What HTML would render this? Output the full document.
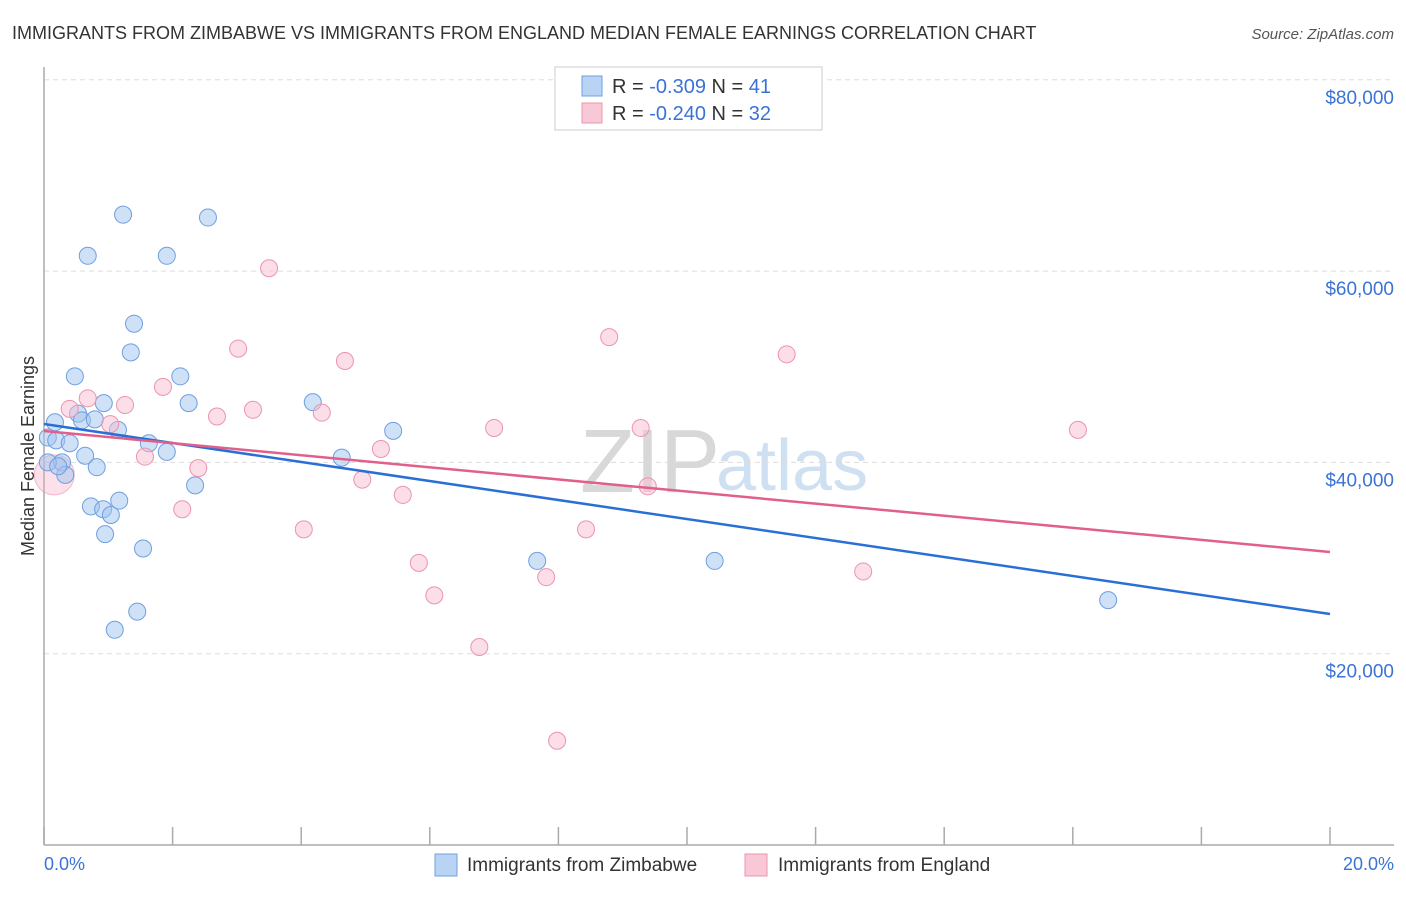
<!DOCTYPE html>
<html><head><meta charset="utf-8"><style>
body{margin:0;background:#fff;font-family:"Liberation Sans",sans-serif;}
svg text{font-family:"Liberation Sans",sans-serif;}
</style></head><body>
<svg width="1406" height="892" viewBox="0 0 1406 892" xmlns="http://www.w3.org/2000/svg">
<text x="12" y="39" font-size="18" fill="#333">IMMIGRANTS FROM ZIMBABWE VS IMMIGRANTS FROM ENGLAND MEDIAN FEMALE EARNINGS CORRELATION CHART</text>
<text x="1394" y="39" font-size="15" fill="#555" font-style="italic" text-anchor="end">Source: ZipAtlas.com</text>
<text x="720" y="492" font-size="90" fill="#d8d8d8" text-anchor="end" font-family="Liberation Serif">ZIP</text>
<text x="716" y="490" font-size="72" fill="#cfe0f3">atlas</text>
<g id="grid"></g><g id="axes"></g><g id="pts"></g><g id="lines"></g>
<text transform="translate(34,456) rotate(-90)" font-size="18" fill="#333" text-anchor="middle">Median Female Earnings</text>
<text x="44" y="870" font-size="18" fill="#3a73d6">0.0%</text>
<text x="1394" y="870" font-size="18" fill="#3a73d6" text-anchor="end">20.0%</text>
<g>
<rect x="555" y="67" width="267" height="63" fill="#fff" stroke="#ccc"/>
<rect x="582" y="76" width="20" height="20" fill="#b9d3f5" stroke="#6f9fe0"/>
<rect x="582" y="103" width="20" height="20" fill="#f9c8d6" stroke="#eb94ae"/>
<text x="612" y="93" font-size="20" fill="#333">R = <tspan fill="#3a73d6">-0.309</tspan>   N = <tspan fill="#3a73d6">41</tspan></text>
<text x="612" y="120" font-size="20" fill="#333">R = <tspan fill="#3a73d6">-0.240</tspan>   N = <tspan fill="#3a73d6">32</tspan></text>
</g>
<g>
<rect x="435" y="854" width="22" height="22" fill="#b9d3f5" stroke="#6f9fe0"/>
<text x="467" y="871" font-size="19" fill="#333">Immigrants from Zimbabwe</text>
<rect x="745" y="854" width="22" height="22" fill="#f9c8d6" stroke="#eb94ae"/>
<text x="778" y="871" font-size="19" fill="#333">Immigrants from England</text>
</g>
</svg>
<script>
const yTicks=[20000,40000,60000,80000];
const yTickLabels=["$20,000","$40,000","$60,000","$80,000"];
const xTicks=[0,2,4,6,8,10,12,14,16,18,20];
const zimX=[0.17,0.06,0.19,0.40,0.28,0.33,0.48,0.53,0.59,0.64,0.82,0.79,0.68,0.93,1.15,1.23,1.35,1.40,1.63,1.91,1.91,2.12,2.25,2.35,2.55,0.73,0.92,1.04,1.17,0.95,1.54,1.10,1.45,4.18,4.63,5.43,7.67,10.43,16.55,0.06,0.22];
const zimY=[44200,42600,42300,42000,40000,38700,49000,45100,44400,40700,39500,44500,61600,46200,43400,65900,51500,54500,42000,41100,61600,49000,46200,37600,65600,35400,35100,34500,36000,32500,31000,22500,24400,46300,40500,43300,29700,29700,25600,40000,39600];
const engX=[0.16,0.40,0.68,1.03,1.26,1.57,1.85,2.15,2.40,2.69,3.02,3.25,3.50,4.04,4.32,4.68,4.95,5.24,5.58,5.83,6.07,6.77,7.00,7.81,7.98,8.43,8.79,9.28,9.39,11.55,12.74,16.08];
const engY=[38700,45600,46700,44000,46000,40600,47900,35100,39400,44800,51900,45500,60300,33000,45200,50600,38200,41400,36600,29500,26100,20700,43600,28000,10900,33000,53100,43600,37500,51300,28600,43400];
const zimTrend=[44013,24150];
const engTrend=[43280,30630];
const NS="http://www.w3.org/2000/svg";
const X=v=>44+v/20*1286, Y=v=>845-v/20000*191.3;
function mk(t,a,p){const e=document.createElementNS(NS,t);for(const k in a)e.setAttribute(k,a[k]);document.getElementById(p).appendChild(e);return e;}
yTicks.forEach((t,i)=>{
 const l=mk('line',{x1:44,x2:1394,y1:Y(t),y2:Y(t),stroke:'#ddd','stroke-dasharray':'5,4'},'grid');
 
 
 const tx=mk('text',{x:1394,y:Y(t)+24,'font-size':19,fill:'#3a73d6','text-anchor':'end'},'grid');
 tx.textContent=yTickLabels[i];
 
 
});
const ya=mk('line',{x1:44,x2:44,y1:67,y2:845,stroke:'#aaa','stroke-width':1.5},'axes');


const xa=mk('line',{x1:44,x2:1394,y1:845,y2:845,stroke:'#aaa','stroke-width':1.5},'axes');


xTicks.forEach(t=>{
 const l=mk('line',{x1:X(t),x2:X(t),y1:827,y2:845,stroke:'#aaa','stroke-width':1.5},'axes');
 
 
});
const big=mk('circle',{cx:X(engX[0]),cy:Y(engY[0]),r:20,fill:'rgba(245,170,195,0.35)',stroke:'rgba(230,130,165,0.5)'},'pts');


zimX.forEach((x,i)=>{
 const c=mk('circle',{cx:X(x),cy:Y(zimY[i]),r:8.5,fill:'rgba(160,196,240,0.5)',stroke:'#6f9fe0','stroke-width':1},'pts');
 
 
});
engX.forEach((x,i)=>{
 if(i===0)return;
 const c=mk('circle',{cx:X(x),cy:Y(engY[i]),r:8.5,fill:'rgba(248,190,210,0.5)',stroke:'#eb94ae','stroke-width':1},'pts');
 
 
});
const tz=mk('line',{x1:X(0),y1:Y(zimTrend[0]),x2:X(20),y2:Y(zimTrend[1]),stroke:'#2a6fd6','stroke-width':2.5},'lines');


const te=mk('line',{x1:X(0),y1:Y(engTrend[0]),x2:X(20),y2:Y(engTrend[1]),stroke:'#e0608a','stroke-width':2.5},'lines');


</script>
</body></html>
